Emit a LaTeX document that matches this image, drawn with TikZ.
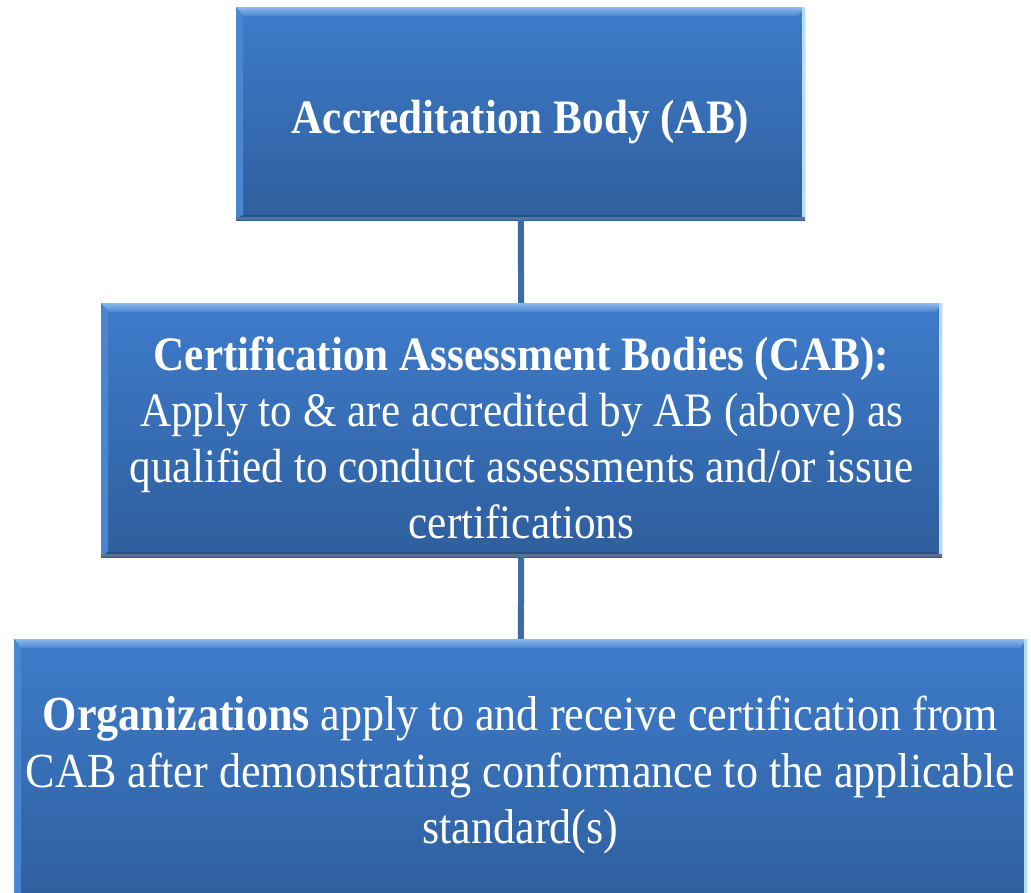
\documentclass[tikz,border=0pt]{standalone}
\usepackage{fontspec}
\setmainfont{Liberation Serif}[FakeStretch=0.90]
\usetikzlibrary{positioning}
\definecolor{boxtop}{HTML}{3E7CCB}
\definecolor{boxbot}{HTML}{2E5E9D}
\definecolor{boxhi}{HTML}{6FAAEA}
\definecolor{boxside}{HTML}{4A86D0}
\definecolor{boxlow}{HTML}{5A7196}
\definecolor{boxedge}{HTML}{B5DDF8}
\definecolor{linkblue}{HTML}{3F6BA4}
\tikzset{
  levelbox/.style = {shape=rectangle, inner sep=0pt, align=center,
                     text=white, font=\fontsize{48}{56}\selectfont,
                     top color=boxtop, bottom color=boxbot,
                     path picture={
                       \path (path picture bounding box.north west) coordinate (bnw)
                             (path picture bounding box.south east) coordinate (bse);
                       % bevel round the box
                       \shade[top color=boxhi!80!white, bottom color=boxside]
                         (bnw) -- (bnw -| bse) -- ([shift={(-7pt,-9pt)}]bnw -| bse)
                         -- ([shift={(7pt,-9pt)}]bnw) -- cycle;
                       \fill[boxside] (bnw) -- ([shift={(7pt,-9pt)}]bnw)
                         -- ([shift={(7pt,5pt)}]bse -| bnw) -- (bse -| bnw) -- cycle;
                       \fill[boxbot!85!black] (bse) -- (bse -| bnw)
                         -- ([shift={(7pt,5pt)}]bse -| bnw) -- ([shift={(-7pt,5pt)}]bse) -- cycle;
                       \fill[boxedge] ([xshift=-3pt]bnw -| bse) rectangle (bse);
                       \fill[boxlow] (bse -| bnw) rectangle ([yshift=3pt]bse);
                     }},
  link/.style     = {draw=linkblue, line width=6pt}
}
\begin{document}
\begin{tikzpicture}[x=1pt,y=-1pt]
\useasboundingbox (0,0) rectangle (1031,892);
\node [levelbox, minimum width=569pt, minimum height=213pt,
  text height=50pt, text depth=10pt]
  (ab) at (520.5,113.5) {\textbf{Accreditation Body (AB)}};
\node [levelbox, minimum width=841pt, minimum height=254pt,
  text height=216pt, text depth=0pt]
  (cab) at (521.5,430) {\textbf{Certification Assessment Bodies (CAB):}\\
  Apply to \& are accredited by AB (above) as\\
  qualified to conduct assessments and/or issue\\
  certifications};
\node [levelbox, minimum width=1013pt, minimum height=272pt,
  font=\fontsize{49}{56.5}\selectfont]
  (org) at (520.5,775) {\textbf{Organizations} apply to and receive certification from\\
  CAB after demonstrating conformance to the applicable\\
  standard(s)};
\draw [link] (ab) -- (cab);
\draw [link] (cab) -- (org);
\end{tikzpicture}
\end{document}
